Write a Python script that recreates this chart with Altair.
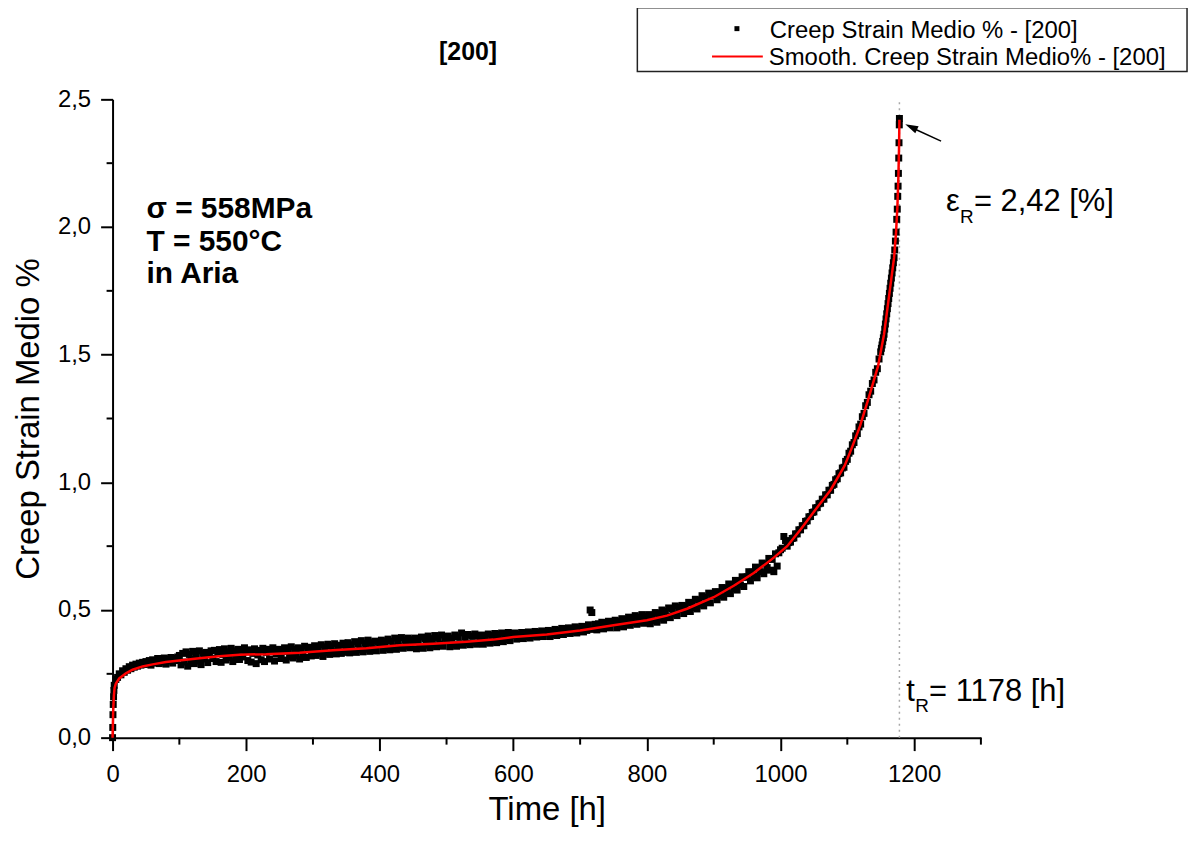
import altair as alt
import pandas as pd

FONT = "Liberation Sans"

# ---------------- axes ----------------
X_DOMAIN = [0, 1300]
Y_DOMAIN = [0, 2.5]
X_MAJOR = [0, 200, 400, 600, 800, 1000, 1200]
X_MINOR = [100, 300, 500, 700, 900, 1100, 1300]
Y_MAJOR = [0.0, 0.5, 1.0, 1.5, 2.0, 2.5]
Y_MINOR = [0.25, 0.75, 1.25, 1.75, 2.25]

TITLE = "[200]"
X_TITLE = "Time [h]"
Y_TITLE = "Creep Strain Medio %"
SERIES_POINTS = "Creep Strain Medio % - [200]"
SERIES_SMOOTH = "Smooth. Creep Strain Medio% - [200]"
CONDITIONS = ["σ = 558MPa", "T = 550°C", "in Aria"]
T_RUPTURE = 1178
EPS_TEXT = ["ε", "R", "= 2,42 [%]"]
TR_TEXT = ["t", "R", "= 1178 [h]"]

# ---------------- smoothed curve ----------------
SMOOTH_T = [0, 1, 2, 3, 5, 10, 20, 30, 45, 60, 80, 100, 130, 160, 190, 230, 280,
            330, 380, 430, 480, 530, 570, 600, 650, 700, 750, 800, 830, 860, 900,
            930, 960, 990, 1010, 1030, 1050, 1075, 1096, 1106, 1119, 1133, 1146,
            1155, 1161, 1166, 1170, 1173, 1175, 1176.5, 1177.5, 1178]
SMOOTH_V = [0.000, 0.110, 0.165, 0.195, 0.212, 0.232, 0.252, 0.266, 0.279, 0.287,
            0.296, 0.302, 0.311, 0.319, 0.325, 0.327, 0.333, 0.342, 0.350, 0.362,
            0.368, 0.376, 0.384, 0.394, 0.404, 0.420, 0.440, 0.460, 0.478, 0.505,
            0.550, 0.595, 0.645, 0.705, 0.750, 0.815, 0.885, 0.970, 1.065, 1.130,
            1.220, 1.340, 1.455, 1.580, 1.700, 1.800, 1.880, 1.980, 2.080, 2.200,
            2.320, 2.420]

START_T = [0.3, 0.6, 1.0, 1.5, 2.0]
START_V = [0.040, 0.090, 0.130, 0.160, 0.185]

GRID_STEP = 2.5  # hours between samples, rows of 20 samples (50 h each)
ROWS = [
    [0.000, 0.205, 0.228, 0.236, 0.250, 0.246, 0.262, 0.256, 0.270, 0.264, 0.278, 0.270, 0.284, 0.276, 0.288, 0.280, 0.292, 0.284, 0.295, 0.287],
    [0.298, 0.288, 0.302, 0.284, 0.305, 0.292, 0.300, 0.310, 0.290, 0.306, 0.296, 0.312, 0.288, 0.308, 0.300, 0.314, 0.292, 0.310, 0.302, 0.316],
    [0.322, 0.285, 0.330, 0.296, 0.336, 0.280, 0.326, 0.306, 0.338, 0.290, 0.324, 0.300, 0.340, 0.286, 0.330, 0.308, 0.334, 0.294, 0.326, 0.340],
    [0.310, 0.342, 0.298, 0.334, 0.345, 0.295, 0.326, 0.348, 0.304, 0.336, 0.314, 0.350, 0.298, 0.340, 0.320, 0.346, 0.306, 0.342, 0.316, 0.352],
    [0.336, 0.302, 0.344, 0.296, 0.330, 0.348, 0.290, 0.324, 0.342, 0.305, 0.350, 0.298, 0.334, 0.346, 0.308, 0.338, 0.352, 0.300, 0.328, 0.344],
    [0.346, 0.310, 0.338, 0.352, 0.304, 0.342, 0.318, 0.356, 0.312, 0.346, 0.322, 0.352, 0.308, 0.348, 0.326, 0.358, 0.314, 0.346, 0.354, 0.320],
    [0.350, 0.360, 0.322, 0.354, 0.330, 0.364, 0.318, 0.356, 0.332, 0.366, 0.326, 0.360, 0.336, 0.368, 0.328, 0.356, 0.362, 0.330, 0.370, 0.334],
    [0.358, 0.372, 0.332, 0.364, 0.340, 0.376, 0.334, 0.368, 0.344, 0.380, 0.336, 0.370, 0.346, 0.382, 0.338, 0.372, 0.348, 0.378, 0.340, 0.374],
    [0.368, 0.382, 0.342, 0.376, 0.350, 0.386, 0.344, 0.378, 0.354, 0.390, 0.346, 0.380, 0.356, 0.392, 0.350, 0.382, 0.358, 0.390, 0.352, 0.384],
    [0.376, 0.390, 0.348, 0.382, 0.356, 0.394, 0.350, 0.386, 0.362, 0.398, 0.352, 0.388, 0.364, 0.400, 0.356, 0.390, 0.366, 0.402, 0.358, 0.392],
    [0.382, 0.398, 0.356, 0.390, 0.364, 0.402, 0.358, 0.394, 0.368, 0.410, 0.362, 0.396, 0.370, 0.404, 0.364, 0.398, 0.372, 0.406, 0.366, 0.400],
    [0.390, 0.402, 0.366, 0.398, 0.374, 0.406, 0.370, 0.400, 0.378, 0.408, 0.372, 0.404, 0.382, 0.410, 0.376, 0.406, 0.384, 0.412, 0.380, 0.408],
    [0.400, 0.410, 0.386, 0.406, 0.392, 0.412, 0.388, 0.408, 0.396, 0.414, 0.390, 0.410, 0.398, 0.416, 0.394, 0.412, 0.400, 0.418, 0.396, 0.414],
    [0.410, 0.420, 0.396, 0.416, 0.404, 0.424, 0.400, 0.420, 0.408, 0.428, 0.404, 0.424, 0.412, 0.430, 0.408, 0.428, 0.414, 0.434, 0.410, 0.430],
    [0.428, 0.436, 0.414, 0.432, 0.420, 0.442, 0.500, 0.490, 0.424, 0.444, 0.422, 0.446, 0.430, 0.452, 0.426, 0.450, 0.434, 0.456, 0.430, 0.454],
    [0.448, 0.460, 0.430, 0.456, 0.440, 0.466, 0.434, 0.462, 0.446, 0.472, 0.440, 0.468, 0.450, 0.478, 0.444, 0.472, 0.454, 0.482, 0.448, 0.476],
    [0.466, 0.482, 0.446, 0.476, 0.458, 0.490, 0.452, 0.486, 0.468, 0.500, 0.460, 0.494, 0.476, 0.508, 0.470, 0.504, 0.484, 0.516, 0.478, 0.510],
    [0.502, 0.518, 0.486, 0.516, 0.498, 0.530, 0.494, 0.528, 0.510, 0.542, 0.504, 0.538, 0.522, 0.556, 0.516, 0.550, 0.532, 0.566, 0.528, 0.560],
    [0.556, 0.572, 0.540, 0.570, 0.556, 0.588, 0.550, 0.586, 0.570, 0.602, 0.564, 0.600, 0.584, 0.616, 0.578, 0.614, 0.598, 0.630, 0.592, 0.628],
    [0.630, 0.650, 0.614, 0.648, 0.634, 0.668, 0.626, 0.664, 0.650, 0.684, 0.642, 0.680, 0.666, 0.702, 0.656, 0.698, 0.650, 0.720, 0.672, 0.724],
    [0.736, 0.742, 0.788, 0.772, 0.750, 0.764, 0.766, 0.780, 0.782, 0.798, 0.798, 0.814, 0.814, 0.830, 0.830, 0.847, 0.849, 0.865, 0.866, 0.882],
    [0.884, 0.900, 0.901, 0.916, 0.918, 0.934, 0.934, 0.951, 0.951, 0.969, 0.969, 0.988, 0.992, 1.010, 1.014, 1.034, 1.037, 1.056, 1.059, 1.082],
    [1.090, 1.114, 1.122, 1.147, 1.156, 1.182, 1.191, 1.217, 1.228, 1.257, 1.270, 1.300, 1.313, 1.343, 1.357, 1.387, 1.401, 1.431, 1.445, 1.483],
]

END_T = [1150, 1151, 1152, 1153, 1154, 1155, 1156, 1157, 1158, 1159, 1160, 1161,
         1162, 1163, 1164, 1165, 1166, 1167, 1168, 1169, 1170, 1171, 1172, 1173,
         1174, 1174.8, 1175.5, 1176, 1176.5, 1177, 1177.4, 1177.8, 1178]
END_V = [1.511, 1.525, 1.538, 1.552, 1.566, 1.580, 1.600, 1.620, 1.640, 1.660,
         1.680, 1.700, 1.720, 1.740, 1.760, 1.780, 1.800, 1.820, 1.840, 1.860,
         1.880, 1.910, 1.945, 1.980, 2.030, 2.070, 2.120, 2.160, 2.210, 2.270,
         2.330, 2.400, 2.425]

# ---------------- build tables ----------------
pts_t, pts_v = list(START_T), list(START_V)
for r, row in enumerate(ROWS):
    for j, val in enumerate(row):
        pts_t.append(GRID_STEP * (r * 20 + j))
        pts_v.append(val)
pts_t += END_T
pts_v += END_V
points = pd.DataFrame({"t": pts_t, "v": pts_v})
smooth = pd.DataFrame({"t": SMOOTH_T, "v": SMOOTH_V})
rupture = pd.DataFrame({"t": [T_RUPTURE], "v": [Y_DOMAIN[0]], "v2": [Y_DOMAIN[1]]})
xminor = pd.DataFrame({"t": X_MINOR})
yminor = pd.DataFrame({"v": Y_MINOR})
one = pd.DataFrame({"k": [0]})

W, H = 872, 641

x_enc = alt.X(
    "t:Q",
    scale=alt.Scale(domain=X_DOMAIN, nice=False, zero=False),
    axis=alt.Axis(values=X_MAJOR, title=X_TITLE, format="d", tickSize=13,
                  labelPadding=12, labelFlush=False, titleX=W / 2, titleY=82,
                  titleBaseline="alphabetic", titleAlign="center"),
)
y_enc = alt.Y(
    "v:Q",
    scale=alt.Scale(domain=Y_DOMAIN, nice=False, zero=False),
    axis=alt.Axis(values=Y_MAJOR, title=Y_TITLE, tickSize=12, labelPadding=10,
                  labelFlush=False,
                  labelExpr="replace(format(datum.value, '.1f'), '.', ',')",
                  titleX=-84, titleY=H / 2, titleAngle=270,
                  titleBaseline="middle", titleAlign="center"),
)

dotted = alt.Chart(rupture).mark_rule(
    color="#a8a8a8", strokeWidth=1.5, strokeDash=[2, 4]
).encode(x=x_enc, y=y_enc, y2="v2:Q")

scatter = alt.Chart(points).mark_square(
    size=49, color="black", opacity=1, filled=True
).encode(x=x_enc, y=y_enc)

line = alt.Chart(smooth).mark_line(color="#ff0000", strokeWidth=2.5).encode(
    x=x_enc, y=y_enc, order="t:Q"
)

xmin_ticks = alt.Chart(xminor).mark_rule(color="black", strokeWidth=2).encode(
    x=x_enc, y=alt.value(H), y2=alt.value(H + 7)
)
ymin_ticks = alt.Chart(yminor).mark_rule(color="black", strokeWidth=2).encode(
    y=y_enc, x=alt.value(0), x2=alt.value(-6)
)


def txt(s, x, y, size, weight="normal", align="left"):
    return alt.Chart(one).mark_text(
        font=FONT, fontSize=size, fontWeight=weight, align=align,
        baseline="alphabetic", color="black"
    ).encode(x=alt.value(x), y=alt.value(y), text=alt.value(s))


title = txt(TITLE, 357, -40, 25, "bold", "center")
cond = [txt(s, 34, yy, 30, "bold") for s, yy in zip(CONDITIONS, [119, 152, 184])]

eps = [txt(EPS_TEXT[0], 837, 112, 31), txt(EPS_TEXT[1], 851, 124, 19),
       txt(EPS_TEXT[2], 865, 112, 31)]
tr = [txt(TR_TEXT[0], 797, 604, 31), txt(TR_TEXT[1], 806, 615, 19),
      txt(TR_TEXT[2], 820, 604, 31)]

arrow_line = alt.Chart(one).mark_rule(color="black", strokeWidth=1.5).encode(
    x=alt.value(832), y=alt.value(42), x2=alt.value(806), y2=alt.value(30)
)
arrow_head = alt.Chart(one).mark_point(
    shape="M0,0L0.6,2L-0.6,2Z", size=169, filled=True, color="black",
    opacity=1, angle=295
).encode(x=alt.value(796), y=alt.value(25))

# legend
leg_box = alt.Chart(one).mark_rect(fill="white", stroke="#222222", strokeWidth=1.5).encode(
    x=alt.value(527), x2=alt.value(1079), y=alt.value(-92), y2=alt.value(-28)
)
leg_sq = alt.Chart(one).mark_square(size=25, color="black", opacity=1, filled=True).encode(
    x=alt.value(627), y=alt.value(-71)
)
leg_line = alt.Chart(one).mark_rule(color="#ff0000", strokeWidth=2).encode(
    x=alt.value(602), x2=alt.value(653), y=alt.value(-43)
)
leg_t1 = txt(SERIES_POINTS, 660, -62, 24)
leg_t2 = txt(SERIES_SMOOTH, 659, -34, 24)

chart = alt.layer(
    dotted, scatter, line, xmin_ticks, ymin_ticks, title, *cond, *eps, *tr,
    arrow_line, arrow_head, leg_box, leg_sq, leg_line, leg_t1, leg_t2
).properties(
    width=W, height=H,
    autosize=alt.AutoSizeParams(type="none"),
    padding={"left": 105, "top": 90, "right": 215, "bottom": 90},
    background="white",
).configure_view(stroke=None).configure_axis(
    grid=False, domainColor="black", domainWidth=2, tickColor="black",
    tickWidth=2, labelFont=FONT, labelFontSize=24, labelColor="black",
    titleFont=FONT, titleFontSize=33, titleFontWeight="normal", titleColor="black",
    labelOverlap=False,
)

chart.save("out.html", embed_options={"renderer": "svg", "actions": False})
